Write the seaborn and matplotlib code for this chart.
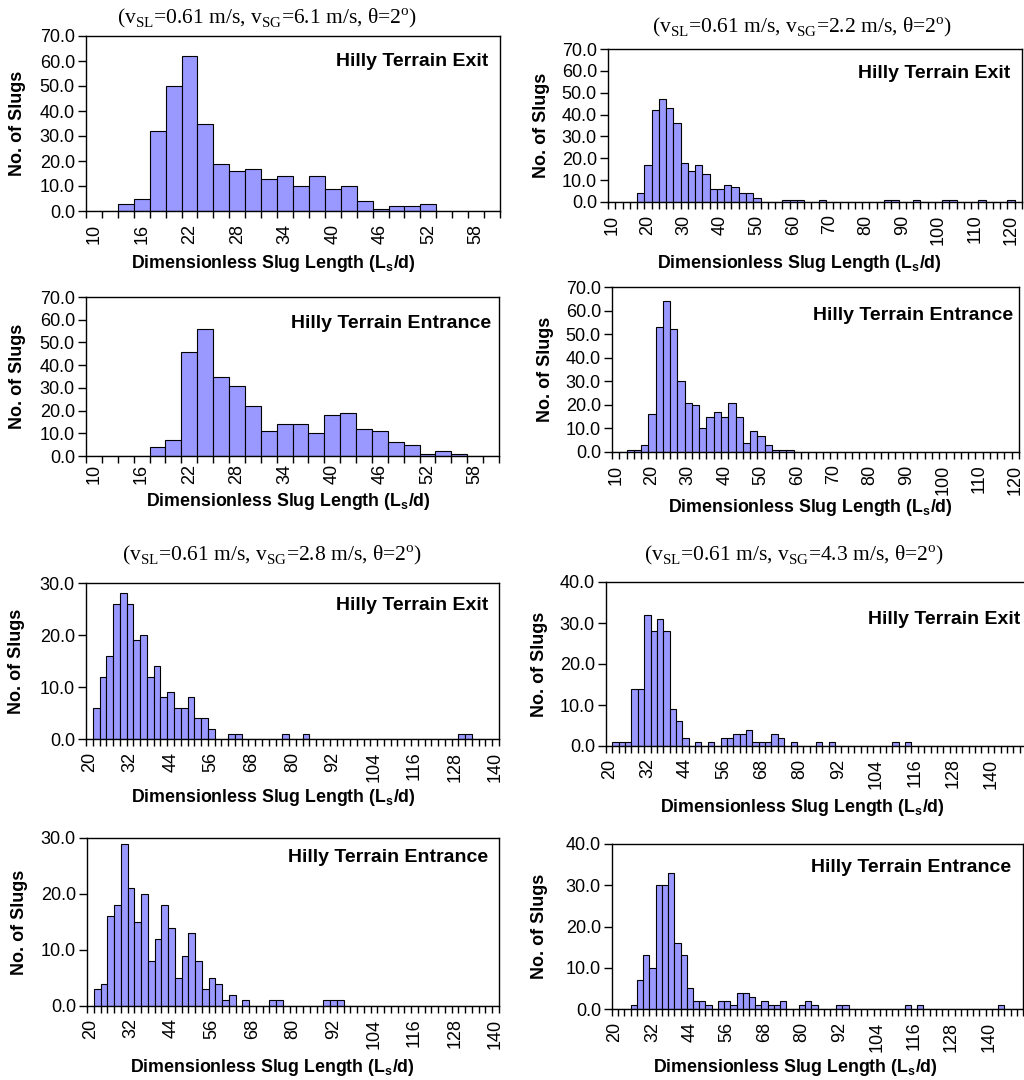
import seaborn as sns
import matplotlib.pyplot as plt
import numpy as np
import pandas as pd

# class lower edges (Ls/d, 2-wide classes) for each group of panels
bins_61 = list(range(10, 61, 2))
bins_22x = list(range(10, 123, 2))
bins_22e = list(range(10, 121, 2))
bins_28 = list(range(20, 141, 2))
bins_43 = list(range(20, 151, 2))

# slug counts
exit_61 = [0, 0, 3, 5, 32, 50, 62, 35, 19, 16, 17, 13, 14, 10, 14, 9, 10, 4, 1, 2, 2, 3, 0, 0, 0, 0]
entr_61 = [0, 0, 0, 0, 4, 7, 46, 56, 35, 31, 22, 11, 14, 14, 10, 18, 19, 12, 11, 6, 5, 1, 2, 1, 0, 0]

exit_22 = [0, 0, 0, 0, 4, 17, 42, 47, 43, 36, 18, 14, 17, 13, 6, 6, 8, 7, 4, 4,
           2, 0, 0, 0, 1, 1, 1, 0, 0, 1, 0, 0, 0, 0, 0, 0, 0, 0, 1, 1,
           0, 0, 1, 0, 0, 0, 1, 1, 0, 0, 0, 1, 0, 0, 0, 1, 0]
entr_22 = [0, 0, 1, 1, 3, 16, 53, 64, 52, 30, 21, 20, 10, 15, 17, 15, 21, 15, 4, 9,
           7, 3, 1, 1, 1, 0, 0, 0, 0, 0, 0, 0, 0, 0, 0, 0, 0, 0, 0, 0,
           0, 0, 0, 0, 0, 0, 0, 0, 0, 0, 0, 0, 0, 0, 0, 0]

exit_28 = [0, 6, 12, 16, 26, 28, 26, 19, 20, 12, 14, 8, 9, 6, 6, 8, 4, 4, 2, 0,
           0, 1, 1, 0, 0, 0, 0, 0, 0, 1, 0, 0, 1, 0, 0, 0, 0, 0, 0, 0,
           0, 0, 0, 0, 0, 0, 0, 0, 0, 0, 0, 0, 0, 0, 0, 1, 1, 0, 0, 0, 0]
entr_28 = [0, 3, 4, 16, 18, 29, 21, 15, 20, 8, 12, 18, 14, 5, 9, 13, 8, 3, 5, 4,
           1, 2, 0, 1, 0, 0, 0, 1, 1, 0, 0, 0, 0, 0, 0, 1, 1, 1, 0, 0,
           0, 0, 0, 0, 0, 0, 0, 0, 0, 0, 0, 0, 0, 0, 0, 0, 0, 0, 0, 0, 0]

exit_43 = [0, 1, 1, 1, 14, 14, 32, 28, 31, 28, 9, 6, 2, 0, 1, 0, 1, 0, 2, 2,
           3, 3, 4, 1, 1, 1, 3, 2, 0, 1, 0, 0, 0, 1, 0, 1, 0, 0, 0, 0,
           0, 0, 0, 0, 0, 1, 0, 1, 0, 0, 0, 0, 0, 0, 0, 0, 0, 0, 0, 0,
           0, 0, 0, 0, 0, 0]
entr_43 = [0, 0, 0, 1, 7, 13, 10, 30, 30, 33, 16, 13, 5, 2, 2, 1, 0, 2, 2, 1,
           4, 4, 3, 1, 2, 1, 1, 2, 0, 0, 1, 2, 1, 0, 0, 0, 1, 1, 0, 0,
           0, 0, 0, 0, 0, 0, 0, 1, 0, 1, 0, 0, 0, 0, 0, 0, 0, 0, 0, 0,
           0, 0, 1, 0, 0, 0]

titles = [
    r"(v$_{\mathrm{SL}}$=0.61 m/s, v$_{\mathrm{SG}}$=6.1 m/s, θ=2$^{\mathrm{o}}$)",
    r"(v$_{\mathrm{SL}}$=0.61 m/s, v$_{\mathrm{SG}}$=2.2 m/s, θ=2$^{\mathrm{o}}$)",
    r"(v$_{\mathrm{SL}}$=0.61 m/s, v$_{\mathrm{SG}}$=2.8 m/s, θ=2$^{\mathrm{o}}$)",
    r"(v$_{\mathrm{SL}}$=0.61 m/s, v$_{\mathrm{SG}}$=4.3 m/s, θ=2$^{\mathrm{o}}$)",
]

sns.set_style("white")
plt.rcParams["font.family"] = ["Liberation Sans", "DejaVu Sans"]
plt.rcParams["mathtext.fontset"] = "custom"
plt.rcParams["mathtext.rm"] = "Liberation Serif"
plt.rcParams["mathtext.bf"] = "Liberation Sans:bold"
for k in ["text.color", "axes.labelcolor", "xtick.color", "ytick.color", "axes.edgecolor"]:
    plt.rcParams[k] = "black"

W, H = 1024, 1080
fig = plt.figure(figsize=(W / 100, H / 100), dpi=100)


def draw(box, bins, counts, ymax, step, tag, xlab_c, ylab_x, tag_xy, xpad=9):
    l, t, r, b = box
    ax = fig.add_axes([l / W, 1 - b / H, (r - l) / W, (b - t) / H])
    df = pd.DataFrame({"Ls": bins, "n": counts})
    sns.barplot(data=df, x="Ls", y="n", ax=ax, orient="x", color="#9999ff",
                saturation=1, width=1.0, edgecolor="black", linewidth=0.8,
                errorbar=None)
    n = len(bins)
    ax.set_xlim(-0.5, n - 0.5)
    ax.set_ylim(0, ymax)
    ax.set_xticks(np.arange(n + 1) - 0.5, minor=True)
    ax.set_xticks(np.arange(0, n, step))
    ax.set_xticklabels([str(v) for v in bins[::step]], rotation=90)
    ax.tick_params(axis="x", which="major", length=0, pad=xpad, labelsize=13)
    ax.tick_params(axis="x", which="minor", length=5, width=1, direction="out",
                   bottom=True, color="black")
    yt = np.arange(0, ymax + 1, 10)
    ax.set_yticks(yt)
    ax.set_yticklabels([f"{v:.1f}" for v in yt])
    ax.tick_params(axis="y", length=6, width=1, direction="out", left=True,
                   pad=2, labelsize=13, color="black")
    for s in ax.spines.values():
        s.set_color("black")
        s.set_linewidth(1.0)
    ax.set_xlabel(r"Dimensionless Slug Length (L$_\mathbf{s}$/d)",
                  fontsize=12.8, fontweight="bold", va="center")
    ax.xaxis.set_label_coords((xlab_c[0] - l) / (r - l), -(xlab_c[1] - b) / (b - t))
    ax.set_ylabel("No. of Slugs", fontsize=13, fontweight="bold", va="center")
    ax.yaxis.set_label_coords((ylab_x - l) / (r - l), 0.5)
    ax.text((tag_xy[0] - l) / (r - l), (b - tag_xy[1]) / (b - t), tag,
            transform=ax.transAxes, ha="right", va="center",
            fontsize=14, fontweight="bold")
    return ax


draw((86, 36, 500, 211), bins_61, exit_61, 70, 3, "Hilly Terrain Exit",
     (273, 263), 18, (488, 62))
draw((86, 297, 499, 456), bins_61, entr_61, 70, 3, "Hilly Terrain Entrance",
     (288, 501), 18, (491, 323), xpad=6)
draw((608, 49, 1022, 202), bins_22x, exit_22, 70, 5, "Hilly Terrain Exit",
     (799, 263), 542, (1010, 73))
draw((612, 287, 1019, 452), bins_22e, entr_22, 70, 5, "Hilly Terrain Entrance",
     (810, 507), 545, (1013, 315))
draw((86, 583, 499, 739), bins_28, exit_28, 30, 6, "Hilly Terrain Exit",
     (273, 798), 17, (488, 605))
draw((87, 838, 499, 1006), bins_28, entr_28, 30, 6, "Hilly Terrain Entrance",
     (272, 1067), 20, (488, 858))
draw((606, 582, 1026, 746), bins_43, exit_43, 40, 6, "Hilly Terrain Exit",
     (802, 807), 540, (1020, 620))
draw((612, 844, 1023, 1009), bins_43, entr_43, 40, 6, "Hilly Terrain Entrance",
     (795, 1067), 539, (1011, 868))

for (cx, cy), s in zip([(267, 18), (802, 27), (272, 555), (794, 555)], titles):
    fig.text(cx / W, 1 - cy / H, s, ha="center", va="center",
             family="Liberation Serif", fontsize=15.5)

fig.savefig("out.png", dpi=100)
